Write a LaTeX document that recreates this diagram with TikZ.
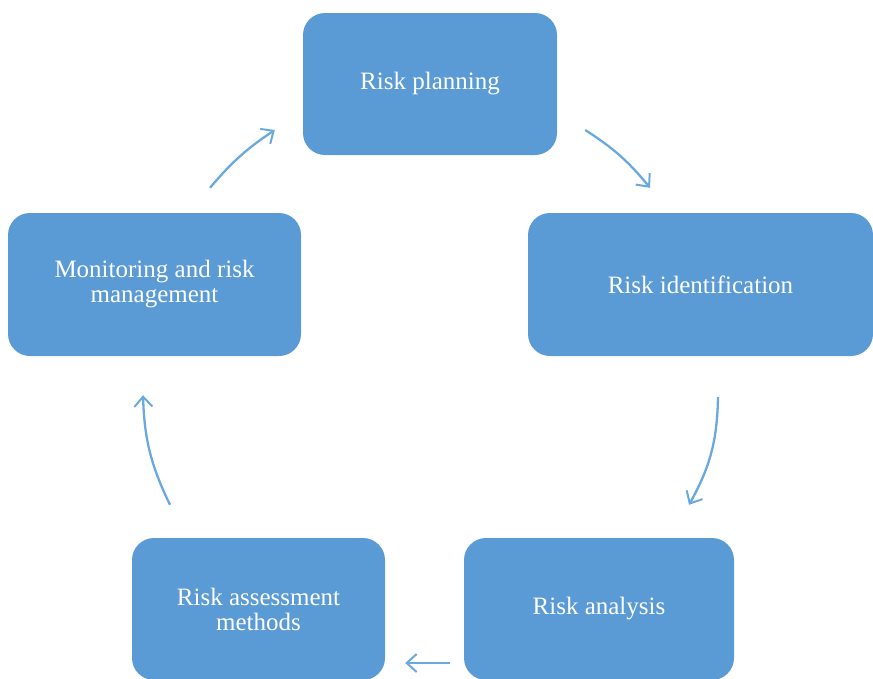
\documentclass[tikz,border=0pt]{standalone}
\usepackage{fontspec}
\setmainfont{Liberation Serif}
\usepackage{tikz}
\usetikzlibrary{arrows.meta,calc}

\definecolor{boxblue}{HTML}{5B9BD5}
\definecolor{arrblue}{HTML}{6AA8E0}

\tikzset{
  stage/.style={rectangle, rounded corners=22pt, fill=boxblue, text=white,
    align=center, inner sep=0pt,
    font=\fontsize{25}{25}\selectfont},
  cyc/.style={arrblue, line width=2.3pt,
    -{Straight Barb[length=10pt,width=18pt,line width=2pt]}}
}

\begin{document}
\begin{tikzpicture}[x=1pt,y=-1pt]
  % 画面の大きさ(ピクセル相当)
  \def\W{873}
  \def\H{678}
  \useasboundingbox (0,0) rectangle (\W,\H);

  % 各段階の箱
  \node[stage, minimum width=254pt, minimum height=142pt] (plan) at (430,84) {Risk planning};
  \node[stage, minimum width=345pt, minimum height=143pt] (ident) at (700.5,284.5) {Risk identification};
  \node[stage, minimum width=293pt, minimum height=143pt] (mon) at (154.5,284.5) {Monitoring and risk\\management};
  \node[stage, minimum width=270pt, minimum height=142pt] (ana) at (599,609) {Risk analysis};
  \node[stage, minimum width=253pt, minimum height=142pt] (ass) at (258.5,609) {Risk assessment\\methods};

  % 矢印(箱から少し離す)
  \draw[cyc] ([shift={(28,46)}]plan.east) to[bend left=9] ([shift={(-50.5,-25)}]ident.north);
  \draw[cyc] ([shift={(17.5,41)}]ident.south) to[bend left=14] ([shift={(90,-33)}]ana.north);
  \draw[cyc] ([shift={(-14,54)}]ana.west) to ([shift={(20,54)}]ass.east);
  \draw[cyc] ([shift={(-88.5,-33)}]ass.north) to[bend left=12] ([shift={(-11.5,39)}]mon.south);
  \draw[cyc] ([shift={(55.5,-25)}]mon.north) to[bend left=8] ([shift={(-28,46)}]plan.west);
\end{tikzpicture}
\end{document}
